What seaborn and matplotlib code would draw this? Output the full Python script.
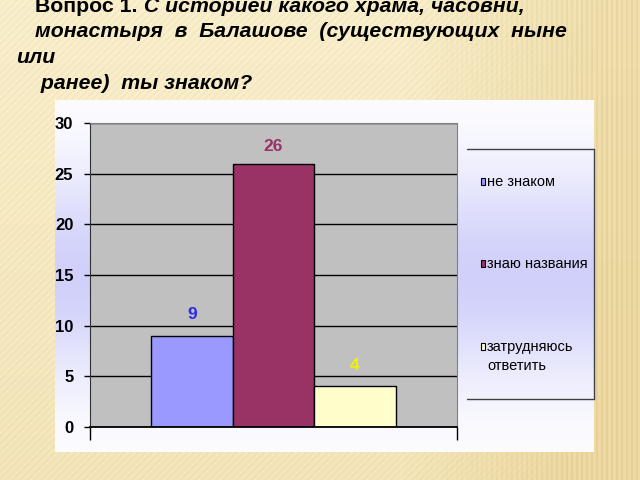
import matplotlib
matplotlib.use("Agg")
import matplotlib.pyplot as plt
from matplotlib.patches import Rectangle
from matplotlib.lines import Line2D
import numpy as np
import pandas as pd
import seaborn as sns

W, H = 640, 480

# chart data
answers = ["не знаком", "знаю названия", "затрудняюсь\nответить"]
counts = [9, 26, 4]
bar_colors = ["#9999FF", "#993366", "#FFFFCC"]
label_colors = ["#2B2BE6", "#993366", "#F0F000"]
y_ticks = [0, 5, 10, 15, 20, 25, 30]

title_head = "Вопрос 1."
title_rest = " С историей какого храма, часовни,"
title_lines = ["монастыря  в  Балашове  (существующих  ныне", "или", " ранее)  ты знаком?"]

sns.set_style("white")
FONT = ["Liberation Sans", "DejaVu Sans"]
plt.rcParams["font.family"] = FONT
plt.rcParams["text.color"] = "black"
plt.rcParams["ytick.color"] = "black"
plt.rcParams["xtick.color"] = "black"


def fx(px):
    return px / W


def fy(py):
    return 1 - py / H


fig = plt.figure(figsize=(W / 100, H / 100), dpi=100)

# slide background: cream to tan with faint stripes
yy, xx = np.mgrid[0:H, 0:W].astype(float)
t = np.clip((xx - 400) / 200, 0, 1)
d = np.clip(0.15 + 0.6 * t + 0.35 * (yy / H), 0, 1)
cream = np.array([253, 244, 212])
tan = np.array([238, 218, 162])
img = cream * (1 - d[..., None]) + tan * d[..., None]
stripes = (np.sin(xx * 2 * np.pi / 5) > 0.3) * t * 10
stripes += (np.sin((xx + yy) * 2 * np.pi / 7) > 0.4) * (1 - t) * 6
img = np.clip((img - stripes[..., None]) / 255, 0, 1)

# white chart panel with lavender band
py = np.arange(100, 452, dtype=float)
g = np.exp(-((py - 275) / 105) ** 2)
lav = np.array([200, 200, 250])
panel = (255 - (255 - lav) * g[:, None] * 0.85) / 255
panel = panel[:, None, :]

bg = fig.add_axes([0, 0, 1, 1], zorder=0)
bg.imshow(img, extent=(0, W, H, 0), aspect="auto", interpolation="nearest")
bg.imshow(panel, extent=(55, 594, 452, 100), aspect="auto", interpolation="bilinear")
bg.set_xlim(0, W)
bg.set_ylim(H, 0)
bg.axis("off")

# bar chart
ax = fig.add_axes([fx(90), fy(427), (457 - 90) / W, (427 - 123) / H], zorder=2)
ax.set_facecolor("#C0C0C0")
df = pd.DataFrame({"question": ["Q1"] * len(answers), "answer": answers, "count": counts})
sns.barplot(data=df, x="question", y="count", hue="answer", hue_order=answers,
            palette=bar_colors, saturation=1, width=0.665, edgecolor="black",
            linewidth=1, errorbar=None, legend=False, ax=ax)
ax.set_xlim(-0.5, 0.5)
ax.set_ylim(0, 30)
ax.set_xlabel("")
ax.set_ylabel("")
ax.set_xticks([-0.5, 0.5])
ax.set_xticklabels([])
ax.set_yticks(y_ticks)
ax.set_yticklabels([str(v) for v in y_ticks], fontsize=12, fontweight="bold")
ax.tick_params(axis="y", direction="out", length=4, width=1, color="black", pad=8,
               left=True)
ax.tick_params(axis="x", direction="out", length=9, width=1, color="black",
               bottom=True)
ax.grid(axis="y", color="black", linewidth=1)
ax.set_axisbelow(True)
ax.spines["left"].set_color("#303030")
ax.spines["bottom"].set_color("black")
ax.spines["bottom"].set_linewidth(1.3)
ax.spines["right"].set_color("#808080")
ax.spines["top"].set_color("#808080")

for cont, col, pad in zip(ax.containers, label_colors, [10, 7, 10]):
    ax.bar_label(cont, padding=pad, color=col, fontsize=12.5, fontweight="bold")

# legend box (open on the left)
lc = "#404040"
for xs, ys in [((467, 594), (149, 149)), ((594, 594), (149, 399)), ((467, 594), (399, 399))]:
    fig.add_artist(Line2D([fx(x) for x in xs], [fy(y) for y in ys], color=lc, lw=1))
entry_y = [181, 263, 346]
for name, col, yc in zip(answers, bar_colors, entry_y):
    fig.add_artist(Rectangle((fx(481), fy(yc + 3.5)), 4 / W, 7 / H,
                             transform=fig.transFigure, facecolor=col,
                             edgecolor="black", lw=0.8))
    fig.text(fx(487), fy(yc - 6), name, fontsize=10.5, va="top", linespacing=1.45)

# slide title
FS = 15.3
r = fig.canvas.get_renderer()
t0 = fig.text(fx(35), fy(12), title_head, fontsize=FS, fontweight="bold",
              va="baseline")
x1 = t0.get_window_extent(renderer=r).x1
fig.text(x1 / W, fy(12), title_rest, fontsize=FS, fontweight="bold",
         style="italic", va="baseline")
for txt, x0, y0 in zip(title_lines, [35, 16, 35], [37, 63, 89]):
    fig.text(fx(x0), fy(y0), txt, fontsize=FS, fontweight="bold",
             style="italic", va="baseline")

fig.savefig("out.png", dpi=100)
